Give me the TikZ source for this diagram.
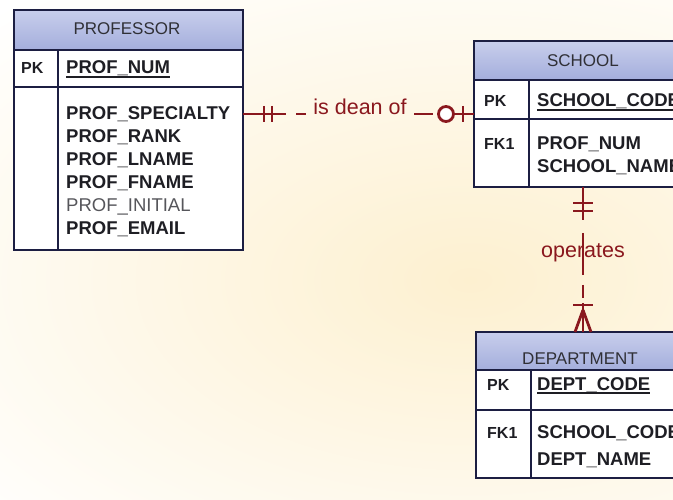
\documentclass[tikz,border=0pt]{standalone}
\usepackage{fontspec}
\setmainfont{Liberation Sans}
\usetikzlibrary{calc}
\definecolor{frame}{RGB}{28,30,66}
\definecolor{hdtop}{RGB}{200,206,236}
\definecolor{hdbot}{RGB}{164,174,220}
\definecolor{relred}{RGB}{138,24,30}
\definecolor{ink}{RGB}{30,30,36}
\definecolor{paper}{RGB}{253,240,208}
\tikzset{
  tablebox/.style={draw=frame, line width=2.6pt, fill=white, inner sep=0pt, outer sep=0pt, anchor=north west},
  headfill/.style={top color=hdtop, bottom color=hdbot},
  divider/.style={draw=frame, line width=2.2pt},
  ttl/.style={font=\fontsize{17}{20}\selectfont, text=ink!92, anchor=base, inner sep=0pt},
  keytxt/.style={font=\fontsize{16}{20}\selectfont\bfseries, text=ink, anchor=base west, inner sep=0pt},
  attr/.style={font=\fontsize{18.5}{22}\selectfont\bfseries, text=ink, anchor=base west, inner sep=0pt},
  optattr/.style={font=\fontsize{18.5}{22}\selectfont, text=ink!75, anchor=base west, inner sep=0pt},
  uline/.style={draw=ink, line width=1.5pt},
  relline/.style={draw=relred, line width=2.8pt},
  reltxt/.style={font=\fontsize{21.5}{24}\selectfont, text=relred, anchor=base, inner sep=0pt},
}
\begin{document}
\begin{tikzpicture}[x=1pt, y=-1pt]
\useasboundingbox (0,0) rectangle (673,500);
\clip (0,0) rectangle (673,500);
% paper, warmer toward the lower right
\shade[inner color=paper, outer color=white] (-200,-100) rectangle (1140,660);

% ---------- PROFESSOR ----------
\node[tablebox, minimum width=229pt, minimum height=240pt] (prof) at (14,10) {};
\fill[headfill] (14,10) rectangle (243,50);
\draw[divider] (14,50) -- (243,50);
\draw[divider] (14,87) -- (243,87);
\draw[divider] (58,50) -- (58,250);
\draw[frame, line width=2.6pt] (14,10) rectangle (243,250);
\node[ttl] at (127,35) {PROFESSOR};
\node[keytxt] at (21,74) {PK};
\node[attr] (pnum) at (66,74) {PROF\_NUM};
\draw[uline] ([yshift=-3pt]pnum.base west) -- ([yshift=-3pt]pnum.base east);
\node[attr] at (66,120) {PROF\_SPECIALTY};
\node[attr] at (66,143) {PROF\_RANK};
\node[attr] at (66,166) {PROF\_LNAME};
\node[attr] at (66,189) {PROF\_FNAME};
\node[optattr] at (66,212) {PROF\_INITIAL};
\node[attr] at (66,235) {PROF\_EMAIL};

% ---------- SCHOOL ----------
\node[tablebox, minimum width=218pt, minimum height=146pt] (school) at (474,41) {};
\fill[headfill] (474,41) rectangle (692,80);
\draw[divider] (474,80) -- (692,80);
\draw[divider] (474,119) -- (692,119);
\draw[divider] (529,80) -- (529,187);
\draw[frame, line width=2.6pt] (474,41) rectangle (692,187);
\node[ttl] at (583,67) {SCHOOL};
\node[keytxt] at (484,107) {PK};
\node[attr] (scode) at (537,107) {SCHOOL\_CODE};
\draw[uline] ([yshift=-3pt]scode.base west) -- ([yshift=-3pt]scode.base east);
\node[keytxt] at (484,150) {FK1};
\node[attr] at (537,150) {PROF\_NUM};
\node[attr] at (537,173) {SCHOOL\_NAME};

% ---------- DEPARTMENT ----------
\node[tablebox, minimum width=210pt, minimum height=146pt] (dept) at (476,332) {};
\fill[headfill] (476,332) rectangle (686,370);
\draw[divider] (476,370) -- (686,370);
\draw[divider] (476,410) -- (686,410);
\draw[divider] (531,370) -- (531,478);
\draw[frame, line width=2.6pt] (476,332) rectangle (686,478);
\node[ttl] at (580,364) {DEPARTMENT};
\node[keytxt] at (487,390) {PK};
\node[attr] (dcode) at (537,390) {DEPT\_CODE};
\draw[uline] ([yshift=-3pt]dcode.base west) -- ([yshift=-3pt]dcode.base east);
\node[keytxt] at (487,438) {FK1};
\node[attr] at (537,438) {SCHOOL\_CODE};
\node[attr] at (537,465) {DEPT\_NAME};

% ---------- relationship: is dean of ----------
\coordinate (deanL) at (prof.east |- 0,114);
\coordinate (deanR) at (school.west |- 0,114);
\draw[relline, dash pattern=on 43pt off 10pt on 10pt off 108pt on 19pt off 5pt on 60pt] (deanL) -- (deanR);
\node[reltxt] at (360,115) {is dean of};
% mandatory one at PROFESSOR
\draw[relline] ($(deanL)+(21,-8)$) -- ++(0,16);
\draw[relline] ($(deanL)+(29,-8)$) -- ++(0,16);
% optional one at SCHOOL
\draw[relline, fill=white] ($(deanR)+(-28,0)$) circle (7.5pt);
\draw[relline] ($(deanR)+(-11,-8)$) -- ++(0,16);

% ---------- relationship: operates ----------
\coordinate (opT) at (school.south -| 583,0);
\coordinate (opB) at (dept.north -| 583,0);
\draw[relline, dash pattern=on 33pt off 13pt on 42pt off 10pt on 13pt off 5pt on 60pt] (opT) -- (opB);
\node[reltxt] at (583,258) {operates};
% mandatory one at SCHOOL
\draw[relline] ($(opT)+(-10,16)$) -- ++(20,0);
\draw[relline] ($(opT)+(-10,24)$) -- ++(20,0);
% mandatory many at DEPARTMENT
\draw[relline] ($(opB)+(-10,-27)$) -- ++(20,0);
\draw[relline] ($(opB)+(0,-22)$) -- ($(opB)+(-8,0)$);
\draw[relline] ($(opB)+(0,-22)$) -- ($(opB)+(8,0)$);
\end{tikzpicture}
\end{document}
